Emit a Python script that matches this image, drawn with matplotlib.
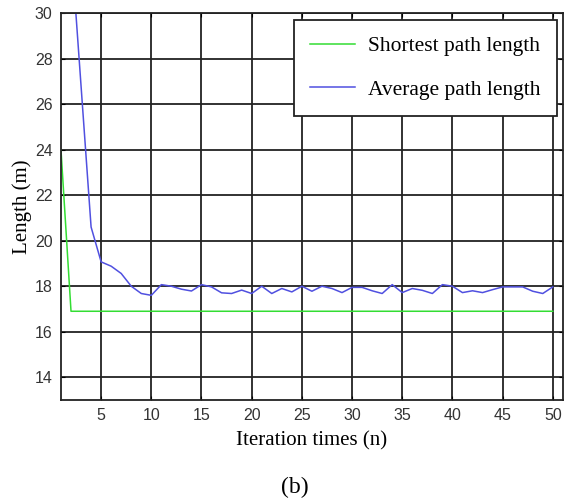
import matplotlib.pyplot as plt

iterations = list(range(1, 51))
shortest = [24.0] + [16.9] * 49
average = [38.0, 33.0, 26.8, 20.6, 19.07, 18.88, 18.56, 18.0, 17.68, 17.6,
           18.07, 18.0, 17.87, 17.79, 18.07, 17.97, 17.71, 17.68, 17.83, 17.68,
           18.0, 17.68, 17.9, 17.75, 18.0, 17.78, 18.0, 17.9, 17.72, 17.95,
           17.95, 17.8, 17.68, 18.07, 17.72, 17.9, 17.82, 17.68, 18.07, 18.0,
           17.72, 17.8, 17.72, 17.85, 17.97, 17.97, 17.97, 17.78, 17.68, 17.97]
x_ticks = list(range(5, 51, 5))
y_ticks = list(range(14, 31, 2))

serif = ['Liberation Serif', 'DejaVu Serif']
sans = ['Liberation Sans', 'DejaVu Sans']

fig = plt.figure(figsize=(5.72, 5.04), dpi=100)
ax = fig.add_axes([0.1066, 0.2063, 0.8774, 0.7677])

ax.plot(iterations, shortest, color='#33dd33', lw=1.1, label='Shortest path length')
ax.plot(iterations, average, color='#5050e0', lw=1.1, label='Average path length')

ax.set_xlim(1, 51)
ax.set_ylim(13, 30)
ax.set_xticks(x_ticks)
ax.set_yticks(y_ticks)
ax.grid(True, color='#222222', lw=1.3)
ax.tick_params(direction='in', length=3, top=True, right=True, labelsize=11.5, pad=6)
for lab in ax.get_xticklabels() + ax.get_yticklabels():
    lab.set_family(sans)
    lab.set_color('#333333')
for s in ax.spines.values():
    s.set_color('#222222')
    s.set_linewidth(1.3)

ax.set_xlabel('Iteration times (n)', family=serif, fontsize=15, labelpad=6)
ax.set_ylabel('Length (m)', family=serif, fontsize=15, labelpad=2)

leg = ax.legend(loc='upper right', prop={'family': serif, 'size': 15.5},
                fancybox=False, framealpha=1, edgecolor='#222222',
                handlelength=2.1, handletextpad=0.6, borderpad=0.75,
                labelspacing=1.1, borderaxespad=0, bbox_to_anchor=(0.988, 0.982))
leg.get_frame().set_linewidth(1.3)

fig.text(0.516, 0.032, '(b)', family=serif, fontsize=17, ha='center', va='center')

fig.savefig('out.png', dpi=100)
